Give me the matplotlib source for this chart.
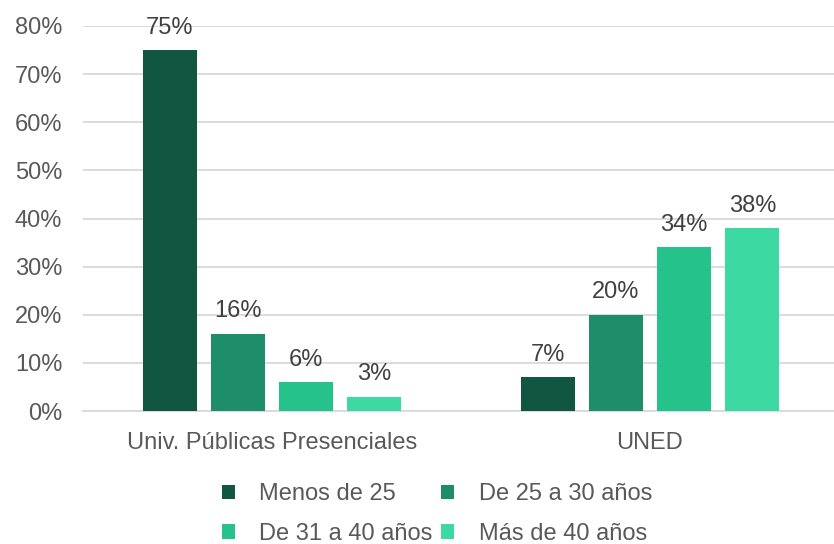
import matplotlib
matplotlib.use("Agg")
import matplotlib.pyplot as plt
import numpy as np

# ── Data ─────────────────────────────────────────────────────────────────────
categories = ["Univ. Públicas Presenciales", "UNED"]
series_names = ["Menos de 25", "De 25 a 30 años", "De 31 a 40 años", "Más de 40 años"]
menos_25 = [75, 7]
de_25_30 = [16, 20]
de_31_40 = [6, 34]
mas_40 = [3, 38]
y_ticks = [0, 10, 20, 30, 40, 50, 60, 70, 80]

_COLORS = ["#115640", "#1E8E6A", "#25C28C", "#3CD9A3"]
FS = 17

plt.rcParams.update({
    "font.family": ["Liberation Sans", "DejaVu Sans"],
    "font.size": FS,
})

fig = plt.figure(figsize=(8.34, 5.44), dpi=100)
ax = fig.add_axes([83 / 834, 1 - 411 / 544, (839 - 83) / 834, (411 - 26) / 544])

x = np.arange(len(categories))
pitch = 0.1807
width = 0.143
all_series = [menos_25, de_25_30, de_31_40, mas_40]
handles = []
for i, (vals, name, col) in enumerate(zip(all_series, series_names, _COLORS)):
    pos = x + (i - 1.5) * pitch
    bars = ax.bar(pos, vals, width=width, color=col, label=name, zorder=3)
    handles.append(bars)
    for b, v in zip(bars, vals):
        ax.text(b.get_x() + b.get_width() / 2, v + 2.4, f"{v}%",
                ha="center", va="bottom", fontsize=FS, color="#404040")

ax.set_xlim(-0.5, 1.5)
ax.set_ylim(0, 80)
ax.set_yticks(y_ticks)
ax.set_yticklabels([f"{t}%" for t in y_ticks], color="#595959")
ax.set_xticks(x)
ax.set_xticklabels(categories, color="#595959")
ax.tick_params(axis="both", length=0, labelsize=FS)
ax.tick_params(axis="x", pad=15)
ax.tick_params(axis="y", pad=15)
ax.grid(axis="y", color="#D9D9D9", linewidth=1.3, zorder=0)
for s in ["top", "right", "left"]:
    ax.spines[s].set_visible(False)
ax.spines["bottom"].set_color("#D9D9D9")
ax.spines["bottom"].set_linewidth(1.3)

# legend fills row-wise in the reference
order = [0, 2, 1, 3]
fig.legend([handles[k] for k in order], [series_names[k] for k in order],
           loc="center", bbox_to_anchor=(437 / 834, 1 - 514 / 544), ncol=2,
           frameon=False, fontsize=FS, handlelength=0.55, handleheight=0.55,
           handletextpad=1.05, columnspacing=0.35, labelspacing=0.75,
           labelcolor="#595959")

fig.savefig("out.png", dpi=100, facecolor="white")
plt.close(fig)
